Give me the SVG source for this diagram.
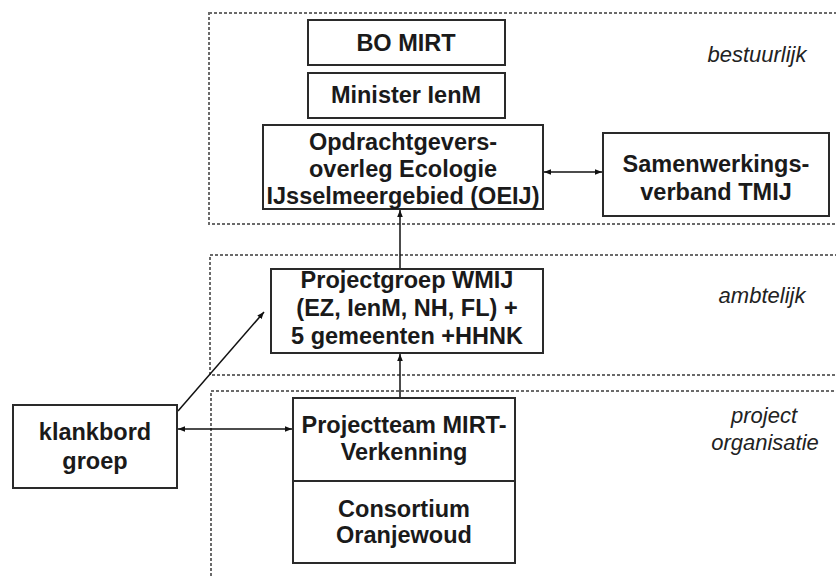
<svg xmlns="http://www.w3.org/2000/svg" width="836" height="576" viewBox="0 0 836 576">
<defs>
<style>
.region{fill:none;stroke:#6a6a6a;stroke-width:2;stroke-dasharray:3 2}
.box{fill:#fff;stroke:#2a2a2a;stroke-width:2}
.t{font-family:"Liberation Sans",Arial,sans-serif;font-weight:bold;font-size:23.5px;fill:#1a1a1a;text-anchor:middle}
.lab{font-family:"Liberation Sans",Arial,sans-serif;font-style:italic;font-size:22px;fill:#222;text-anchor:middle}
.edge{fill:none;stroke:#111;stroke-width:1.5}
</style>
<marker id="ah" viewBox="0 0 10 10" refX="10" refY="5" markerWidth="7" markerHeight="7" orient="auto-start-reverse" markerUnits="userSpaceOnUse">
<path d="M0,1 L10,5 L0,9 z" fill="#111"/>
</marker>
</defs>
<rect width="836" height="576" fill="#fff"/>
<g id="regions">
<rect class="region" x="209" y="13" width="640" height="211"/>
<rect class="region" x="210" y="255" width="640" height="120"/>
<rect class="region" x="211" y="391" width="640" height="200"/>
</g>
<g id="region-labels">
<text class="lab" x="757" y="62">bestuurlijk</text>
<text class="lab" x="762" y="303">ambtelijk</text>
<text class="lab" x="764" y="423">project</text>
<text class="lab" x="765" y="450">organisatie</text>
</g>
<g id="connectors">
<line class="edge" x1="400" y1="269" x2="400" y2="210" marker-end="url(#ah)"/>
<line class="edge" x1="400" y1="398" x2="400" y2="354" marker-end="url(#ah)"/>
<line class="edge" x1="544" y1="172" x2="602" y2="172" marker-start="url(#ah)" marker-end="url(#ah)"/>
<line class="edge" x1="178" y1="429" x2="292" y2="429" marker-start="url(#ah)" marker-end="url(#ah)"/>
<line class="edge" x1="178" y1="411" x2="264" y2="312" marker-end="url(#ah)"/>
</g>
<g id="bo-mirt">
<rect class="box" x="308" y="20" width="197" height="45"/>
<text class="t" x="406" y="51">BO MIRT</text>
</g>
<g id="minister">
<rect class="box" x="308" y="73" width="197" height="45"/>
<text class="t" x="406" y="103">Minister IenM</text>
</g>
<g id="oeij">
<rect class="box" x="263" y="125" width="280" height="84"/>
<text class="t" x="403" y="150">Opdrachtgevers-</text>
<text class="t" x="403" y="177">overleg Ecologie</text>
<text class="t" x="403" y="204">IJsselmeergebied (OEIJ)</text>
</g>
<g id="tmij">
<rect class="box" x="603" y="133" width="226" height="83"/>
<text class="t" x="716" y="172">Samenwerkings-</text>
<text class="t" x="716" y="200">verband TMIJ</text>
</g>
<g id="projectgroep">
<rect class="box" x="271" y="269" width="272" height="84"/>
<text class="t" x="407" y="288">Projectgroep WMIJ</text>
<text class="t" x="407" y="316">(EZ, IenM, NH, FL) +</text>
<text class="t" x="407" y="344">5 gemeenten +HHNK</text>
</g>
<g id="klankbord">
<rect class="box" x="13" y="405" width="164" height="83"/>
<text class="t" x="95" y="440">klankbord</text>
<text class="t" x="95" y="469">groep</text>
</g>
<g id="projectteam">
<rect class="box" x="293" y="398" width="222" height="83"/>
<text class="t" x="404" y="433">Projectteam MIRT-</text>
<text class="t" x="404" y="460">Verkenning</text>
</g>
<g id="consortium">
<rect class="box" x="293" y="481" width="222" height="82"/>
<text class="t" x="404" y="517">Consortium</text>
<text class="t" x="404" y="543">Oranjewoud</text>
</g>
</svg>
